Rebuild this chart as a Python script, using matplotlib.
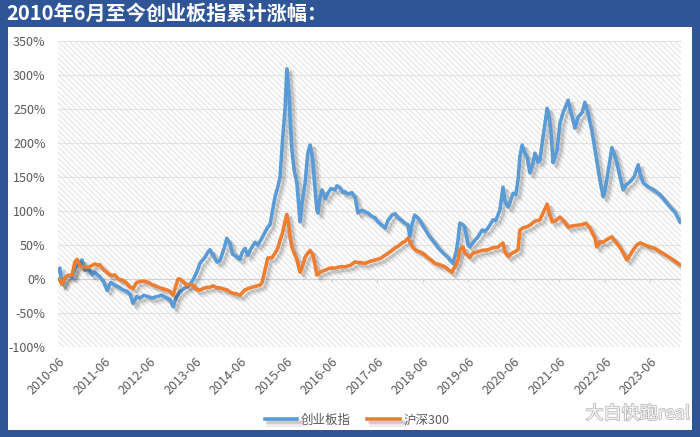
import matplotlib
matplotlib.use('Agg')
import matplotlib.pyplot as plt
import matplotlib.patheffects as pe
from matplotlib.patches import Rectangle

plt.rcParams['font.family'] = ['Noto Sans CJK SC', 'DejaVu Sans']
plt.rcParams['hatch.linewidth'] = 0.7

# ---- data (decimal years, cumulative change in %) ----
cyb_t = [2010.40, 2010.44, 2010.49, 2010.55, 2010.62, 2010.71, 2010.77, 2010.84, 2010.93, 2010.99,
         2011.06, 2011.15, 2011.21, 2011.32, 2011.41, 2011.48, 2011.56, 2011.65, 2011.74, 2011.83,
         2011.91, 2011.98, 2012.05, 2012.13, 2012.20, 2012.29, 2012.38, 2012.46, 2012.57, 2012.68,
         2012.79, 2012.86, 2012.93, 2012.99, 2013.08, 2013.17, 2013.23, 2013.30, 2013.37, 2013.45,
         2013.52, 2013.63, 2013.70, 2013.74, 2013.81, 2013.89, 2013.96, 2014.05, 2014.11, 2014.18,
         2014.24, 2014.33, 2014.40, 2014.44, 2014.51, 2014.57, 2014.62, 2014.73, 2014.79, 2014.88,
         2014.95, 2015.01, 2015.06, 2015.10, 2015.17, 2015.23, 2015.28, 2015.34, 2015.39, 2015.43,
         2015.48, 2015.50, 2015.54, 2015.59, 2015.65, 2015.70, 2015.72, 2015.76, 2015.83, 2015.89,
         2015.94, 2016.00, 2016.05, 2016.09, 2016.11, 2016.16, 2016.20, 2016.27, 2016.33, 2016.40,
         2016.49, 2016.53, 2016.60, 2016.66, 2016.71, 2016.77, 2016.86, 2016.93, 2016.99, 2017.08,
         2017.15, 2017.21, 2017.30, 2017.37, 2017.43, 2017.50, 2017.59, 2017.65, 2017.74, 2017.81,
         2017.87, 2017.98, 2018.02, 2018.09, 2018.13, 2018.18, 2018.24, 2018.31, 2018.35, 2018.42,
         2018.51, 2018.57, 2018.68, 2018.75, 2018.84, 2018.90, 2018.97, 2019.01, 2019.08, 2019.15,
         2019.19, 2019.23, 2019.30, 2019.34, 2019.41, 2019.45, 2019.56, 2019.63, 2019.72, 2019.78,
         2019.85, 2019.96, 2020.02, 2020.11, 2020.18, 2020.22, 2020.29, 2020.33, 2020.40, 2020.46,
         2020.51, 2020.55, 2020.60, 2020.66, 2020.71, 2020.77, 2020.84, 2020.88, 2020.95, 2020.99,
         2021.06, 2021.15, 2021.19, 2021.23, 2021.28, 2021.32, 2021.37, 2021.43, 2021.50, 2021.54,
         2021.61, 2021.65, 2021.70, 2021.76, 2021.83, 2021.92, 2021.98, 2022.05, 2022.09, 2022.13,
         2022.20, 2022.27, 2022.31, 2022.38, 2022.42, 2022.46, 2022.53, 2022.57, 2022.62, 2022.68,
         2022.75, 2022.82, 2022.88, 2022.97, 2023.06, 2023.15, 2023.19, 2023.26, 2023.32, 2023.41,
         2023.52, 2023.63, 2023.74, 2023.85, 2023.96, 2024.02, 2024.07]
cyb_v = [12, 16, -8, 0, 5, 3, 15, 22, 28, 13,
         16, 6, 10, 3, -5, -17, -5, -9, -12, -16,
         -18, -22, -36, -26, -28, -24, -26, -28, -26, -24,
         -28, -30, -41, -28, -19, -14, -12, -8, -1, 10,
         23, 32, 40, 43, 35, 25, 27, 45, 60, 52,
         36, 33, 29, 38, 45, 35, 42, 54, 50, 60,
         69, 76, 80, 95, 121, 135, 150, 209, 250, 309,
         270, 238, 190, 160, 141, 100, 84, 110, 141, 185,
         197, 175, 131, 101, 97, 120, 131, 118, 126, 133,
         131, 137, 134, 127, 128, 125, 127, 120, 97, 101,
         99, 97, 92, 90, 84, 80, 75, 86, 94, 96,
         90, 85, 82, 80, 62, 80, 94, 90, 86, 78,
         68, 62, 53, 46, 40, 36, 32, 28, 23, 40,
         57, 82, 80, 76, 50, 47, 57, 62, 72, 70,
         75, 87, 86, 101, 135, 115, 106, 112, 126, 124,
         146, 180, 197, 185, 179, 156, 170, 185, 172, 175,
         209, 251, 240, 219, 171, 180, 190, 229, 245, 251,
         263, 250, 238, 222, 238, 245, 260, 244, 230, 219,
         190, 160, 145, 121, 130, 146, 175, 193, 185, 171,
         150, 131, 138, 143, 150, 168, 155, 141, 138, 134,
         130, 124, 115, 106, 98, 90, 84]

hs_t = [2010.40, 2010.44, 2010.49, 2010.55, 2010.62, 2010.71, 2010.77, 2010.82, 2010.88, 2010.93,
        2010.99, 2011.06, 2011.15, 2011.21, 2011.28, 2011.32, 2011.41, 2011.48, 2011.56, 2011.65,
        2011.74, 2011.83, 2011.91, 2011.98, 2012.05, 2012.13, 2012.20, 2012.29, 2012.38, 2012.46,
        2012.57, 2012.68, 2012.79, 2012.86, 2012.93, 2012.99, 2013.04, 2013.08, 2013.17, 2013.23,
        2013.30, 2013.37, 2013.45, 2013.52, 2013.63, 2013.74, 2013.81, 2013.89, 2013.96, 2014.05,
        2014.11, 2014.18, 2014.24, 2014.33, 2014.40, 2014.51, 2014.62, 2014.73, 2014.84, 2014.88,
        2014.95, 2015.01, 2015.10, 2015.17, 2015.23, 2015.28, 2015.34, 2015.39, 2015.43, 2015.48,
        2015.50, 2015.54, 2015.61, 2015.65, 2015.72, 2015.78, 2015.83, 2015.89, 2015.94, 2016.00,
        2016.05, 2016.09, 2016.16, 2016.27, 2016.38, 2016.49, 2016.60, 2016.71, 2016.82, 2016.93,
        2017.04, 2017.15, 2017.26, 2017.37, 2017.48, 2017.59, 2017.70, 2017.81, 2017.87, 2017.96,
        2018.02, 2018.09, 2018.13, 2018.20, 2018.27, 2018.35, 2018.46, 2018.53, 2018.62, 2018.68,
        2018.79, 2018.90, 2019.01, 2019.06, 2019.12, 2019.19, 2019.23, 2019.30, 2019.34, 2019.45,
        2019.52, 2019.63, 2019.72, 2019.85, 2019.96, 2020.07, 2020.18, 2020.22, 2020.29, 2020.38,
        2020.44, 2020.51, 2020.55, 2020.62, 2020.71, 2020.77, 2020.88, 2020.99, 2021.08, 2021.15,
        2021.19, 2021.26, 2021.34, 2021.43, 2021.52, 2021.61, 2021.70, 2021.81, 2021.92, 2022.00,
        2022.09, 2022.13, 2022.20, 2022.24, 2022.31, 2022.38, 2022.46, 2022.57, 2022.64, 2022.71,
        2022.79, 2022.90, 2022.97, 2023.04, 2023.12, 2023.19, 2023.30, 2023.41, 2023.52, 2023.63,
        2023.74, 2023.85, 2023.96, 2024.07]
hs_v = [0, -2, -8, 2, 5, 6, 25, 29, 20, 18,
        18, 17, 20, 22, 20, 21, 13, 10, 5, 6,
        -1, -2, -6, -12, -14, -5, -4, -3, -5, -8,
        -11, -14, -16, -18, -24, -10, 0, 0, -5, -9,
        -8, -9, -16, -16, -13, -12, -10, -13, -13, -15,
        -16, -19, -21, -22, -24, -16, -13, -11, -9, -6,
        13, 31, 31, 38, 45, 57, 69, 85, 95, 75,
        62, 47, 35, 28, 10, 20, 32, 38, 42, 36,
        20, 6, 10, 13, 16, 16, 18, 18, 20, 25,
        24, 23, 26, 28, 30, 35, 40, 46, 48, 53,
        55, 60, 55, 46, 42, 40, 36, 31, 27, 23,
        21, 18, 12, 10, 18, 28, 43, 47, 38, 32,
        38, 40, 42, 43, 46, 47, 53, 40, 33, 38,
        40, 43, 72, 75, 77, 79, 85, 87, 100, 110,
        98, 84, 86, 91, 85, 76, 78, 79, 80, 82,
        75, 69, 60, 47, 55, 54, 58, 62, 56, 50,
        42, 28, 35, 43, 50, 53, 50, 47, 45, 40,
        36, 31, 26, 21]

series_names = ['创业板指', '沪深300']
series_colors = ['#5B9BD5', '#ED7D31']
y_ticks = [-100, -50, 0, 50, 100, 150, 200, 250, 300, 350]
x_tick_labels = ['%d-06' % y for y in range(2010, 2024)]
x_tick_pos = [y + 151 / 365 for y in range(2010, 2024)]
title = '2010年6月至今创业板指累计涨幅：'

# ---- figure ----
W, H = 700, 437
fig = plt.figure(figsize=(W / 100, H / 100), dpi=100)
fig.patch.set_facecolor('#2F5597')
fig.add_artist(Rectangle((8 / W, 1 - 430 / H), (692 - 8) / W, (430 - 27) / H,
                         transform=fig.transFigure, facecolor='white', edgecolor='none', zorder=0))

fig.text(6 / W, 1 - 13.5 / H, title, color='white', fontsize=14.5, fontweight='bold',
         ha='left', va='center')

ax = fig.add_axes([58 / W, 1 - 347 / H, (681 - 58) / W, (347 - 41) / H])
ax.patch.set_visible(False)
ax.add_patch(Rectangle((0, 0), 1, 1, transform=ax.transAxes, facecolor='white',
                       edgecolor='#e0e0e0', hatch='\\\\\\\\\\\\', lw=0, zorder=0))

ax.set_xlim(2010.40, 2024.09)
ax.set_ylim(-100, 350)
for s in ax.spines.values():
    s.set_visible(False)

ax.set_yticks(y_ticks)
ax.set_yticklabels(['%d%%' % v for v in y_ticks])
ax.tick_params(axis='y', length=0, pad=9, labelsize=9, labelcolor='#595959')
ax.yaxis.grid(True, color='#E2E2E2', lw=0.8)
ax.set_axisbelow(True)

ax.set_xticks(x_tick_pos)
ax.set_xticklabels(x_tick_labels, rotation=45, ha='right', va='top', rotation_mode='anchor')
ax.tick_params(axis='x', length=0, pad=6, labelsize=9, labelcolor='#595959')

ax.axhline(0, color='#D0D0D0', lw=0.8, zorder=1)
ax.vlines(x_tick_pos, -4.5, 0, color='#D0D0D0', lw=0.8, zorder=1)

shadow = [pe.SimpleLineShadow(offset=(3.2, -3.2), shadow_color='black', alpha=0.08, linewidth=4.0),
          pe.SimpleLineShadow(offset=(2.4, -2.4), shadow_color='black', alpha=0.14),
          pe.Normal()]
ax.plot(cyb_t, cyb_v, color=series_colors[0], lw=2.6, label=series_names[0],
        solid_joinstyle='round', path_effects=shadow, zorder=3)
ax.plot(hs_t, hs_v, color=series_colors[1], lw=2.6, label=series_names[1],
        solid_joinstyle='round', path_effects=shadow, zorder=4)

fig.legend(loc='center', bbox_to_anchor=(357 / W, 1 - 420 / H), ncol=2, frameon=False,
           fontsize=9, handlelength=2.6, columnspacing=1.3, handletextpad=0.3,
           labelcolor='#595959')

fig.text(690 / W, 1 - 414 / H, '大白快跑real', color='white', alpha=0.85, fontsize=13,
         ha='right', va='center',
         path_effects=[pe.withStroke(linewidth=1.2, foreground='#b0b0b0')])

fig.savefig('out.png', dpi=100, facecolor=fig.get_facecolor())
